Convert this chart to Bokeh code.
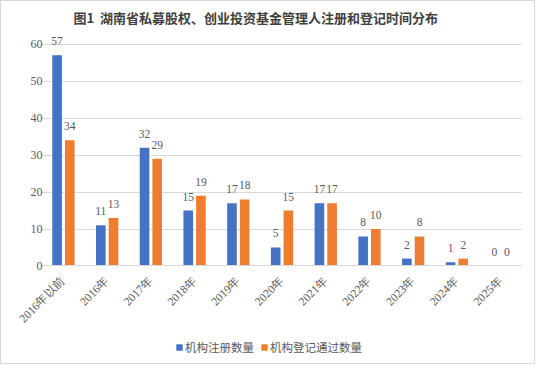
from bokeh.plotting import figure
from bokeh.models import (ColumnDataSource, LabelSet, Legend, LegendItem, Range1d,
                          FixedTicker)
from bokeh.transform import dodge
from bokeh.embed import file_html
from bokeh.resources import INLINE
from math import pi

categories = ["2016年以前", "2016年", "2017年", "2018年", "2019年", "2020年",
              "2021年", "2022年", "2023年", "2024年", "2025年"]
registered = [57, 11, 32, 15, 17, 5, 17, 8, 2, 1, 0]
approved = [34, 13, 29, 19, 18, 15, 17, 10, 8, 2, 0]
yticks = [0, 10, 20, 30, 40, 50, 60]

BLUE = "#4472C4"
ORANGE = "#ED7D31"
GRAY = "#595959"
SERIF = "Liberation Serif"
CJK = "Noto Sans CJK SC"

idx = list(range(len(categories)))
src = ColumnDataSource(dict(x=idx, reg=registered, app=approved,
                            reg_t=[str(v) for v in registered],
                            app_t=[str(v) for v in approved]))

n = len(categories)
p = figure(width=535, height=364, x_range=Range1d(-1.325, n - 0.5), y_range=Range1d(-26.4, 64),
           output_backend="svg", toolbar_location=None,
           min_border_left=4, min_border_right=14, min_border_top=28, min_border_bottom=2)
p.styles = {"border": "1px solid #d9d9d9"}

p.title.text = "图1\u00a0\u00a0湖南省私募股权、创业投资基金管理人注册和登记时间分布"
p.title.text_font = CJK
p.title.text_font_style = "bold"
p.title.text_font_size = "13px"
p.title.text_color = "#404040"
p.title.align = "left"
p.title.offset = 68
p.title.standoff = 6

r1 = p.vbar(x=dodge("x", -0.145), top="reg", width=0.22, source=src,
            fill_color=BLUE, line_color=None)
r2 = p.vbar(x=dodge("x", 0.145), top="app", width=0.22, source=src,
            fill_color=ORANGE, line_color=None)

for col, ycol, off in (("reg_t", "reg", -0.145), ("app_t", "app", 0.145)):
    lbl = LabelSet(x=dodge("x", off), y=ycol, text=col, source=src,
                   text_align="center", text_baseline="middle", y_offset=14,
                   text_font=SERIF, text_font_size="11.5px", text_color=GRAY)
    p.add_layout(lbl)

p.xgrid.grid_line_color = None
p.ygrid.grid_line_color = "#d9d9d9"
p.ygrid.ticker = yticks
p.ygrid.cross_bounds = (-0.5, n - 0.5)

p.yaxis.fixed_location = -0.5
p.yaxis.ticker = yticks
p.yaxis.axis_line_color = None
p.yaxis.major_tick_line_color = None
p.yaxis.major_tick_out = 0
p.yaxis.major_tick_in = 0
p.yaxis.minor_tick_line_color = None
p.yaxis.major_label_standoff = -1
p.yaxis.major_label_text_font = SERIF
p.yaxis.major_label_text_font_size = "12px"
p.yaxis.major_label_text_color = GRAY

p.xaxis.fixed_location = 0
p.xaxis.bounds = (-0.5, n - 0.5)
p.xaxis.ticker = FixedTicker(ticks=idx)
p.xaxis.major_label_overrides = {i: c for i, c in zip(idx, categories)}
p.xaxis.axis_line_color = "#d9d9d9"
p.xaxis.major_tick_line_color = None
p.xaxis.major_tick_out = 0
p.xaxis.major_tick_in = 0
p.xaxis.minor_tick_line_color = None
p.xaxis.major_label_orientation = pi / 4
p.xaxis.major_label_standoff = 13
p.xaxis.major_label_text_font = SERIF
p.xaxis.major_label_text_font_size = "11.6px"
p.xaxis.major_label_text_color = GRAY
p.outline_line_color = None

legend = Legend(items=[LegendItem(label="机构注册数量", renderers=[r1]),
                       LegendItem(label="机构登记通过数量", renderers=[r2])],
                orientation="horizontal", location=(170, 8),
                glyph_width=8, glyph_height=8, label_text_font=CJK,
                label_text_font_size="11.5px", label_text_color=GRAY,
                label_standoff=2, spacing=6, padding=0, margin=0,
                border_line_color=None, background_fill_alpha=0)
p.add_layout(legend, "center")

open("out.html", "w").write(file_html(p, INLINE))
